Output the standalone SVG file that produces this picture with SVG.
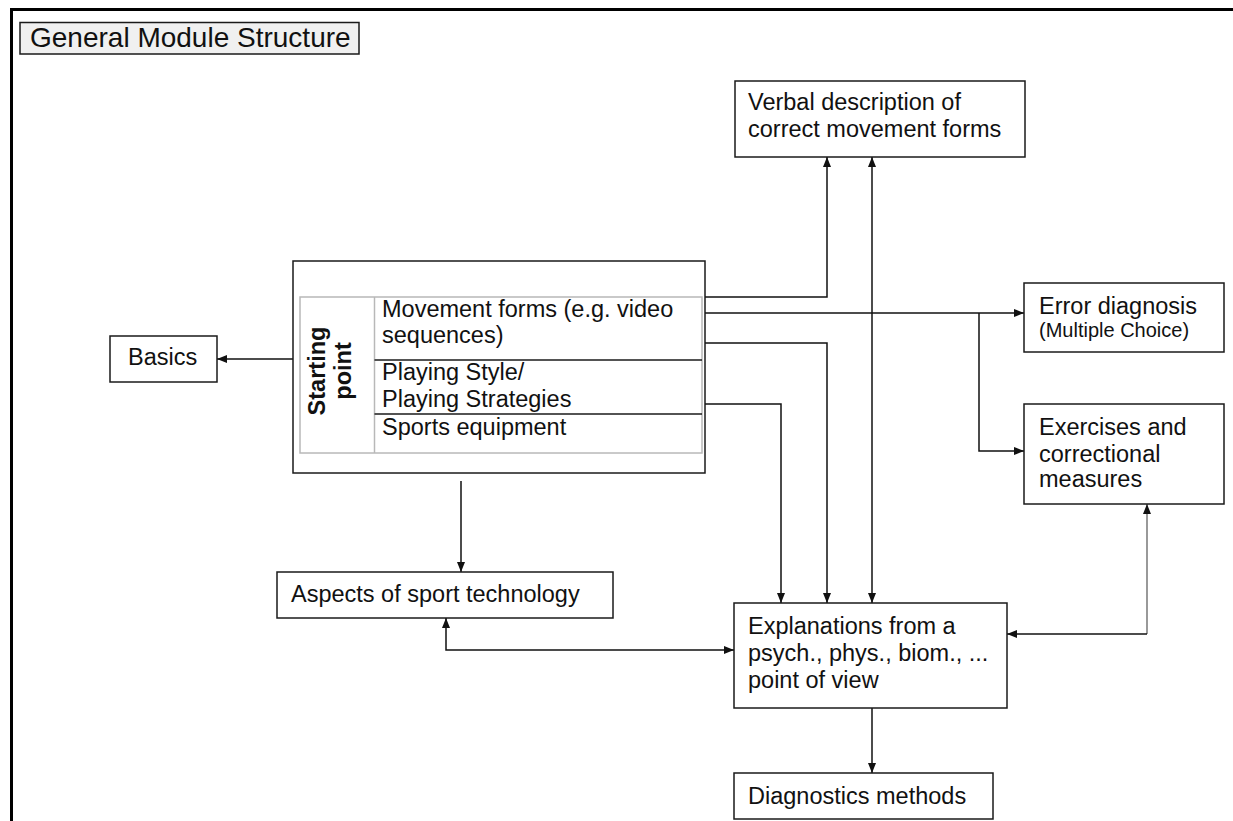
<svg xmlns="http://www.w3.org/2000/svg" width="1233" height="821" viewBox="0 0 1233 821">
  <style>
    .box { fill: #ffffff; stroke: #1a1a1a; stroke-width: 1.5; }
    .lbl { font-family: "Liberation Sans", Arial, sans-serif; font-size: 23.5px; fill: #111111; }
    .small { font-size: 20px; }
    .bold { font-weight: bold; }
    .grid { fill: none; stroke: #b8b8b8; stroke-width: 1.5; }
    .row { stroke: #1a1a1a; stroke-width: 1.5; }
    .wire { fill: none; stroke: #111111; stroke-width: 1.5; }
    .wire-gray { fill: none; stroke: #808080; stroke-width: 1.6; }
  </style>
  <defs>
    <marker id="arrow" viewBox="0 0 10 8" refX="10" refY="4" markerWidth="10" markerHeight="8" markerUnits="userSpaceOnUse" orient="auto-start-reverse">
      <path d="M0,0 L10,4 L0,8 z" fill="#111111"/>
    </marker>
  </defs>

  <rect width="1233" height="821" fill="#ffffff"/>

  <!-- page frame -->
  <path d="M11.5,821 L11.5,9.5 L1233,9.5" fill="none" stroke="#000000" stroke-width="3"/>

  <!-- heading -->
  <g id="title">
    <rect x="20" y="22.5" width="339" height="31.5" fill="#f0f0f0" stroke="#1a1a1a" stroke-width="1.5"/>
    <text class="lbl" x="30" y="47" style="font-size:28px">General Module Structure</text>
  </g>

  <!-- connectors -->
  <g id="connectors">
    <path class="wire" d="M293,359 L217,359" marker-end="url(#arrow)"/>
    <path class="wire" d="M461,481 L461,572" marker-end="url(#arrow)"/>
    <path class="wire" d="M704,297 L827,297 L827,157" marker-end="url(#arrow)"/>
    <path class="wire" d="M702,313 L1024,313" marker-end="url(#arrow)"/>
    <path class="wire" d="M979,313 L979,451 L1024,451" marker-end="url(#arrow)"/>
    <path class="wire" d="M702,343 L827,343 L827,603" marker-end="url(#arrow)"/>
    <path class="wire" d="M702,404 L781,404 L781,603" marker-end="url(#arrow)"/>
    <path class="wire" d="M872,157 L872,603" marker-start="url(#arrow)" marker-end="url(#arrow)"/>
    <path class="wire" d="M446,618 L446,650 L734,650" marker-start="url(#arrow)" marker-end="url(#arrow)"/>
    <path class="wire-gray" d="M1147,504 L1147,634"  marker-start="url(#arrow)"/>
    <path class="wire" d="M1147,634 L1007,634" marker-end="url(#arrow)"/>
    <path class="wire" d="M872,708 L872,773" marker-end="url(#arrow)"/>
  </g>

  <g id="starting-point">
    <rect class="box" x="293" y="261" width="412" height="212"/>
    <rect class="grid" x="300" y="297" width="402" height="156"/>
    <line class="grid" x1="374.5" y1="297" x2="374.5" y2="453"/>
    <line class="row" x1="374.5" y1="360" x2="702" y2="360"/>
    <line class="row" x1="374.5" y1="414" x2="702" y2="414"/>
    <text class="lbl bold" transform="translate(325,371) rotate(-90)" text-anchor="middle">Starting</text>
    <text class="lbl bold" transform="translate(351,371) rotate(-90)" text-anchor="middle">point</text>
    <text class="lbl" x="382" y="317">Movement forms (e.g. video</text>
    <text class="lbl" x="382" y="343">sequences)</text>
    <text class="lbl" x="382" y="380">Playing Style/</text>
    <text class="lbl" x="382" y="407">Playing Strategies</text>
    <text class="lbl" x="382" y="435">Sports equipment</text>
  </g>

  <g id="basics">
    <rect class="box" x="110" y="336" width="107" height="46"/>
    <text class="lbl" x="128" y="365">Basics</text>
  </g>

  <g id="verbal-description">
    <rect class="box" x="735" y="81" width="290" height="76"/>
    <text class="lbl" x="748" y="110">Verbal description of</text>
    <text class="lbl" x="748" y="137">correct movement forms</text>
  </g>

  <g id="error-diagnosis">
    <rect class="box" x="1024" y="283" width="200" height="69"/>
    <text class="lbl" x="1039" y="314">Error diagnosis</text>
    <text class="lbl small" x="1039" y="337">(Multiple Choice)</text>
  </g>

  <g id="exercises">
    <rect class="box" x="1024" y="404" width="200" height="100"/>
    <text class="lbl" x="1039" y="435">Exercises and</text>
    <text class="lbl" x="1039" y="462">correctional</text>
    <text class="lbl" x="1039" y="487">measures</text>
  </g>

  <g id="aspects">
    <rect class="box" x="277" y="572" width="336" height="46"/>
    <text class="lbl" x="291" y="602">Aspects of sport technology</text>
  </g>

  <g id="explanations">
    <rect class="box" x="734" y="603" width="273" height="105"/>
    <text class="lbl" x="748" y="634">Explanations from a</text>
    <text class="lbl" x="748" y="661">psych., phys., biom., ...</text>
    <text class="lbl" x="748" y="688">point of view</text>
  </g>

  <g id="diagnostics">
    <rect class="box" x="734" y="773" width="259" height="46"/>
    <text class="lbl" x="748" y="804">Diagnostics methods</text>
  </g>
</svg>
